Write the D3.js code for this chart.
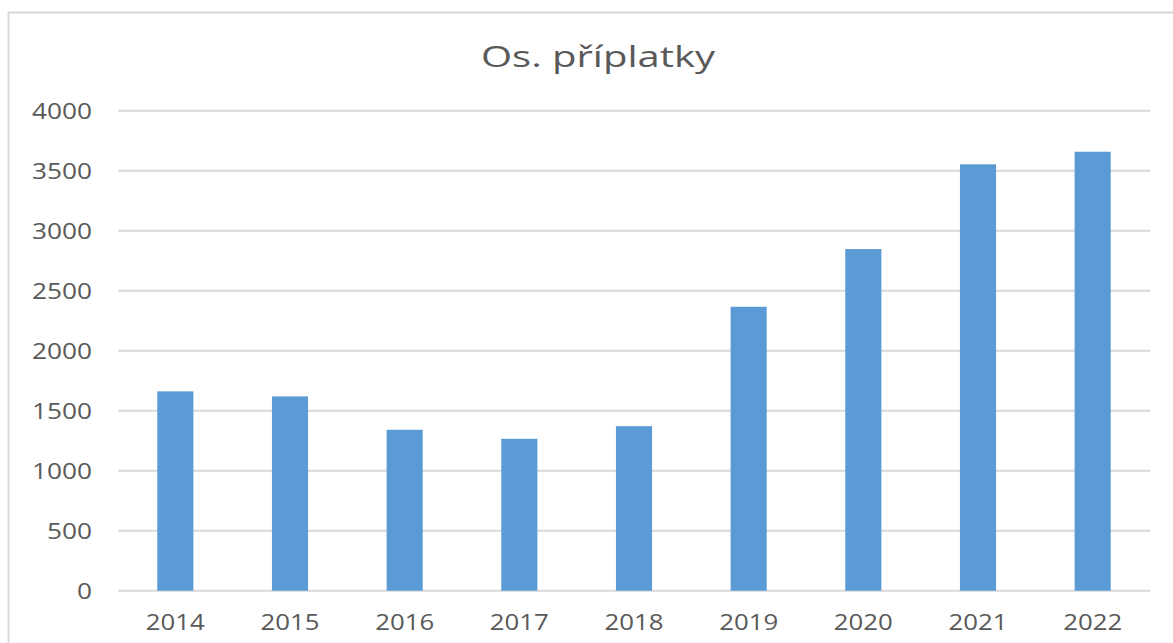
<!DOCTYPE html>
<html>
<head>
<meta charset="utf-8">
<script src="https://cdn.jsdelivr.net/npm/d3@7"></script>
<style>
  html, body { margin: 0; padding: 0; background: #fff; overflow: hidden; }
</style>
</head>
<body>
<svg id="chart" width="1173" height="643"></svg>
<script>
// data
const years = ["2014", "2015", "2016", "2017", "2018", "2019", "2020", "2021", "2022"]
const values = [1661, 1619, 1341, 1266, 1371, 2366, 2847, 3553, 3658]
const yTicks = [0, 500, 1000, 1500, 2000, 2500, 3000, 3500, 4000]
const chartTitle = "Os. příplatky"

const svg = d3.select("#chart")
const font = "'Open Sans', 'DejaVu Sans', sans-serif"
const textColor = "#595959"
const gridColor = "#d9d9d9"
const barColor = "#5b9bd5"

// outer frame (right and bottom edges fall outside the picture)
svg.append("rect")
  .attr("x", 8.5)
  .attr("y", 12.5)
  .attr("width", 1200)
  .attr("height", 700)
  .attr("fill", "#fff")
  .attr("stroke", gridColor)
  .attr("stroke-width", 2)

const plot = {left: 118, right: 1150, top: 110.7, bottom: 590.7}

const x = d3.scaleBand()
  .domain(years)
  .range([plot.left, plot.right])
  .paddingInner(0.685)
  .paddingOuter(0.3425)

const y = d3.scaleLinear()
  .domain([0, 4000])
  .range([plot.bottom, plot.top])

// gridlines
const g = svg.append("g")
g.selectAll(".grid")
  .data(yTicks)
  .join("line")
  .attr("class", "grid")
  .attr("x1", plot.left)
  .attr("x2", plot.right)
  .attr("y1", d => y(d))
  .attr("y2", d => y(d))
  .attr("stroke", gridColor)
  .attr("stroke-width", 2)

// bars
g.selectAll(".bar")
  .data(values)
  .join("rect")
  .attr("class", "bar")
  .attr("x", (d, i) => x(years[i]))
  .attr("y", d => y(d))
  .attr("width", x.bandwidth())
  .attr("height", d => y(0) - y(d))
  .attr("fill", barColor)

// y tick labels (stretched wide, like the source)
g.selectAll(".ylab")
  .data(yTicks)
  .join("text")
  .attr("class", "ylab")
  .attr("x", 92)
  .attr("y", d => y(d) + 8)
  .attr("text-anchor", "end")
  .attr("font-family", font)
  .attr("font-size", "22px")
  .attr("fill", textColor)
  .attr("textLength", d => String(d).length * 15)
  .attr("lengthAdjust", "spacingAndGlyphs")
  .text(d => d)

// x labels
g.selectAll(".xlab")
  .data(years)
  .join("text")
  .attr("class", "xlab")
  .attr("x", d => x(d) + x.bandwidth() / 2)
  .attr("y", 630)
  .attr("text-anchor", "middle")
  .attr("font-family", font)
  .attr("font-size", "22px")
  .attr("fill", textColor)
  .attr("textLength", 59)
  .attr("lengthAdjust", "spacingAndGlyphs")
  .text(d => d)

// title
svg.append("text")
  .attr("x", 598)
  .attr("y", 67)
  .attr("text-anchor", "middle")
  .attr("font-family", font)
  .attr("font-size", "30px")
  .attr("fill", textColor)
  .attr("textLength", 234)
  .attr("lengthAdjust", "spacingAndGlyphs")
  .text(chartTitle)
</script>
</body>
</html>
